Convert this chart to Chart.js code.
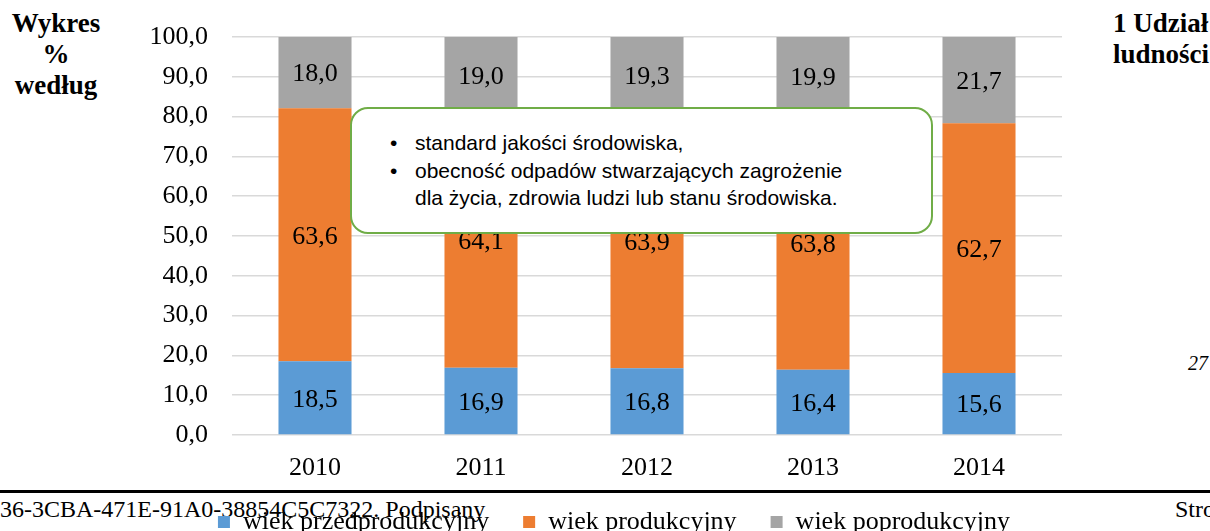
<!DOCTYPE html>
<html>
<head>
<meta charset="utf-8">
<script src="https://cdn.jsdelivr.net/npm/chart.js@4/dist/chart.umd.min.js"></script>
<style>
  body { margin: 0; width: 1210px; height: 531px; background: #fff; overflow: hidden; position: relative; font-family: "Liberation Serif", "Times New Roman", serif; }
  #wrap { position: absolute; left: 130px; top: 0; width: 968px; height: 545px; z-index: 2; }
  .side { position: absolute; font-weight: bold; font-size: 27px; line-height: 31px; text-align: center; }
  #left { left: 0; top: 8px; width: 112px; }
  #right { left: 1113px; top: 8px; text-align: left; white-space: nowrap; }
  #page { position: absolute; left: 1188px; top: 352px; font-style: italic; font-size: 20px; }
  #rule { position: absolute; left: 0; top: 490px; width: 1210px; height: 3px; background: #000; }
  #foot { position: absolute; left: 0; top: 496px; font-size: 24px; white-space: nowrap; z-index: 1; }
  #stro { position: absolute; left: 1175px; top: 496px; font-size: 24px; }
  #box { position: absolute; left: 350px; top: 107px; width: 579px; height: 123px; border: 2px solid #70AD47; border-radius: 18px; background: #fff; z-index: 3;
         font-family: "Liberation Sans", Arial, sans-serif; font-size: 21px; color: #000; }
  #box ul { margin: 0; padding: 0; position: absolute; left: 42px; top: 20px; list-style: none; }
  #box li { position: relative; padding-left: 21px; line-height: 27.5px; white-space: nowrap; }
  #box li::before { content: "\2022"; position: absolute; left: -4px; }
</style>
</head>
<body>
<div class="side" id="left">Wykres<br>%<br>według</div>
<div class="side" id="right">1 Udział<br>ludności</div>
<div id="page">27</div>
<div id="rule"></div>
<div id="foot">36-3CBA-471E-91A0-38854C5C7322. Podpisany</div>
<div id="stro">Stro</div>
<div id="wrap"><canvas id="myChart" width="968" height="545"></canvas></div>
<div id="box">
  <ul>
    <li>standard jakości środowiska,</li>
    <li>obecność odpadów stwarzających zagrożenie<br>dla życia, zdrowia ludzi lub stanu środowiska.</li>
  </ul>
</div>
<script>
const years = ['2010', '2011', '2012', '2013', '2014'];
const przedprodukcyjny = [18.5, 16.9, 16.8, 16.4, 15.6];
const produkcyjny = [63.6, 64.1, 63.9, 63.8, 62.7];
const poprodukcyjny = [18.0, 19.0, 19.3, 19.9, 21.7];
const yTicks = [0, 10, 20, 30, 40, 50, 60, 70, 80, 90, 100];

const serif = "'Liberation Serif', 'Times New Roman', serif";

function fmt(v) {
    return v.toFixed(1).replace('.', ',');
}

// draws the number in the middle of every bar segment
const barLabels = {
    id: 'barLabels',
    afterDatasetsDraw(chart) {
        const ctx = chart.ctx;
        ctx.save();
        ctx.font = '26px ' + serif;
        ctx.fillStyle = '#000';
        ctx.textAlign = 'center';
        ctx.textBaseline = 'middle';
        chart.data.datasets.forEach((ds, i) => {
            chart.getDatasetMeta(i).data.forEach((bar, j) => {
                const mid = (bar.y + bar.base) / 2;
                ctx.fillText(fmt(ds.data[j]), bar.x, mid + 2);
            });
        });
        ctx.restore();
    }
};

// legend sits a bit right of the axes block in the original
const legendShift = {
    id: 'legendShift',
    afterLayout(chart) {
        chart.legend.left += 18;
        chart.legend.right += 18;
    }
};

const data = {
    labels: years,
    datasets: [
        { label: 'wiek przedprodukcyjny', data: przedprodukcyjny, backgroundColor: '#5B9BD5' },
        { label: 'wiek produkcyjny', data: produkcyjny, backgroundColor: '#ED7D31' },
        { label: 'wiek poprodukcyjny', data: poprodukcyjny, backgroundColor: '#A5A5A5' }
    ]
};

const config = {
    type: 'bar',
    data: data,
    options: {
        responsive: false,
        animation: false,
        devicePixelRatio: 1,
        layout: { padding: { top: 37, right: 36, left: 0, bottom: 0 } },
        datasets: { bar: { barPercentage: 0.44, categoryPercentage: 1 } },
        scales: {
            x: {
                stacked: true,
                afterFit(axis) { axis.height = 40; },
                grid: { display: false },
                border: { display: false },
                ticks: { font: { family: serif, size: 26 }, color: '#000', padding: 10 }
            },
            y: {
                stacked: true,
                min: 0,
                max: 100,
                afterFit(axis) {
                    axis.width = 102;
                    axis.paddingTop = 0;
                    axis.paddingBottom = 0;
                },
                afterBuildTicks(axis) { axis.ticks = yTicks.map(v => ({ value: v })); },
                grid: { color: '#D9D9D9', lineWidth: 1.5, drawTicks: false },
                border: { display: false },
                ticks: { font: { family: serif, size: 26 }, color: '#000', padding: 24, callback: v => fmt(v) }
            }
        },
        plugins: {
            legend: {
                position: 'bottom',
                labels: { font: { family: serif, size: 26 }, color: '#000', boxWidth: 12, boxHeight: 12, padding: 34 }
            },
            tooltip: { enabled: false }
        }
    },
    plugins: [barLabels, legendShift]
};

const myChart = new Chart('myChart', config);
</script>
</body>
</html>
